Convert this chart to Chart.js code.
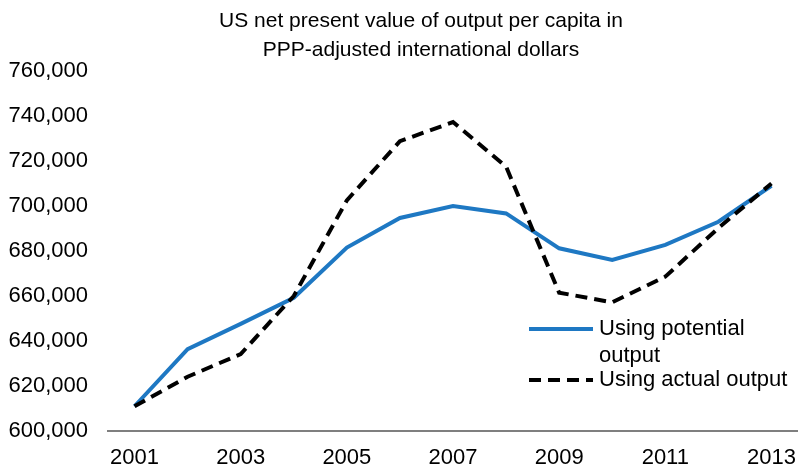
<!DOCTYPE html>
<html>
<head>
<meta charset="utf-8">
<script src="https://cdn.jsdelivr.net/npm/chart.js@4"></script>
<style>
  html, body { margin: 0; padding: 0; background: #fff; }
  #wrap { width: 798px; height: 470px; }
</style>
</head>
<body>
<div id="wrap"><canvas id="grafico"></canvas></div>
<script>
// dados
const anos = ['2001','2002','2003','2004','2005','2006','2007','2008','2009','2010','2011','2012','2013'];
const potencial = [611000, 636400, 647600, 659200, 681500, 694700, 700000, 696700, 681200, 676000, 682700, 693000, 709000];
const atual = [611000, 624100, 634200, 660000, 702500, 728800, 737300, 717500, 661500, 657200, 668600, 690200, 710000];
const nomes = ['Using potential|output', 'Using actual output'];
const titulo = ['US net present value of output per capita in', 'PPP-adjusted international dollars'];

const FONTE = "'Liberation Sans', Arial, sans-serif";
const AZUL = '#1e78c3';
const TRACO = [12, 7];

// título (deslocado um pouco para a direita) e legenda dentro da área do gráfico
const textosExtras = {
    id: 'textosExtras',
    afterDraw(chart) {
        const ctx = chart.ctx;
        const area = chart.chartArea;
        ctx.save();
        ctx.fillStyle = '#000';
        ctx.textBaseline = 'middle';

        ctx.font = '21px ' + FONTE;
        ctx.textAlign = 'center';
        ctx.fillText(titulo[0], 421, 21);
        ctx.fillText(titulo[1], 421, 50);

        const x0 = area.left + 421;
        const y0 = area.top + 258;
        ctx.font = '22px ' + FONTE;
        ctx.textAlign = 'left';
        ctx.lineWidth = 4;
        ctx.strokeStyle = AZUL;
        ctx.beginPath();
        ctx.moveTo(x0, y0);
        ctx.lineTo(x0 + 64, y0);
        ctx.stroke();
        const linhas = nomes[0].split('|');
        ctx.fillText(linhas[0], x0 + 70, y0);
        ctx.fillText(linhas[1], x0 + 70, y0 + 27);

        ctx.strokeStyle = '#000';
        ctx.setLineDash(TRACO);
        ctx.beginPath();
        ctx.moveTo(x0, y0 + 51);
        ctx.lineTo(x0 + 64, y0 + 51);
        ctx.stroke();
        ctx.setLineDash([]);
        ctx.fillText(nomes[1], x0 + 70, y0 + 51);
        ctx.restore();
    }
};

new Chart(document.getElementById('grafico'), {
    type: 'line',
    data: {
        labels: anos,
        datasets: [
            {
                label: nomes[1],
                data: atual,
                borderColor: '#000',
                borderWidth: 4,
                borderDash: TRACO,
                pointRadius: 0,
                tension: 0,
                order: 0
            },
            {
                label: nomes[0],
                data: potencial,
                borderColor: AZUL,
                borderWidth: 4,
                pointRadius: 0,
                tension: 0,
                order: 1
            }
        ]
    },
    options: {
        responsive: true,
        maintainAspectRatio: false,
        animation: false,
        layout: { padding: { top: 71, left: 0, right: 0, bottom: 0 } },
        plugins: {
            legend: { display: false },
            tooltip: { enabled: false },
            title: { display: false }
        },
        scales: {
            x: {
                offset: true,
                grid: { display: false, drawTicks: false },
                border: { display: true, color: '#7f7f7f', width: 2 },
                ticks: {
                    color: '#000',
                    font: { family: FONTE, size: 22 },
                    padding: 14,
                    maxRotation: 0,
                    autoSkip: false,
                    callback: (v, i) => (i % 2 === 0 ? anos[i] : '')
                },
                afterFit: s => { s.height = 39; s.paddingRight = 0; s.paddingLeft = 0; }
            },
            y: {
                min: 600000,
                max: 760000,
                grid: { display: false, drawTicks: false },
                border: { display: false },
                ticks: {
                    stepSize: 20000,
                    color: '#000',
                    font: { family: FONTE, size: 22 },
                    padding: 20,
                    callback: v => v.toLocaleString('en-US')
                },
                afterFit: s => { s.width = 108; }
            }
        }
    },
    plugins: [textosExtras]
});
</script>
</body>
</html>
